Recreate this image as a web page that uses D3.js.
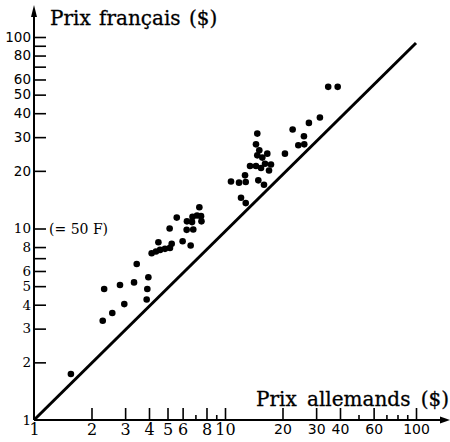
<!DOCTYPE html>
<html lang="fr">
<head>
    <meta charset="UTF-8"/>
    <title>Prix français / Prix allemands</title>
    <script src="https://d3js.org/d3.v7.min.js"></script>
    <style>
        body {
            margin: 0;
            background: #fff;
        }
    </style>
</head>
<body>
<script>
    // prices of the same articles, Germany vs France ($)
    const prixAllemands = [
        1.56, 2.29, 2.57, 2.97, 2.33, 2.82, 3.34, 3.45, 3.97, 3.92, 3.89,
        4.13, 4.35, 4.57, 4.85, 5.15, 4.48, 5.26, 5.13, 5.59, 6.0, 6.61,
        6.30, 6.82, 6.32, 6.72, 6.76, 7.14, 7.49, 7.53, 7.34,
        10.75, 11.84, 12.84, 12.73, 14.94, 16.0, 12.13, 12.84,
        14.76, 14.53, 15.12, 16.65, 14.76, 15.68, 13.52, 14.53, 15.44, 16.2, 17.41, 17.0,
        20.6, 24.2, 26.0, 25.9, 22.6, 27.5, 31.4, 34.7, 38.9
    ];
    const prixFrancais = [
        1.74, 3.30, 3.62, 4.03, 4.83, 5.07, 5.23, 6.53, 5.56, 4.83, 4.26,
        7.42, 7.58, 7.73, 7.83, 7.92, 8.48, 8.32, 10.0, 11.4, 8.58, 8.15,
        9.84, 9.88, 10.9, 10.8, 11.5, 11.7, 11.6, 10.9, 12.9,
        17.6, 17.35, 17.48, 18.95, 17.84, 16.93, 14.48, 13.57,
        31.3, 27.5, 25.6, 24.6, 24.1, 23.45, 21.2, 21.2, 20.7, 21.8, 21.6, 20.1,
        24.6, 27.2, 27.5, 30.3, 32.9, 35.6, 38.0, 54.9, 54.9
    ];

    // equal-price line (as printed)
    const diagonale = [[1, 1], [100, 93]];

    const xTicks = [2, 3, 4, 5, 6, 7, 8, 9, 10, 20, 30, 40, 50, 60, 70, 80, 90, 100];
    const xLabels = [1, 2, 3, 4, 5, 6, 8, 10, 20, 30, 40, 60, 100];
    const xShort = [7, 9, 50, 70, 80, 90];
    const yTicks = [2, 3, 4, 5, 6, 7, 8, 10, 20, 30, 40, 50, 60, 70, 80, 90, 100];
    const yLabels = [1, 2, 3, 4, 5, 6, 8, 10, 20, 30, 40, 50, 60, 80, 100];

    const width = 450;
    const height = 442;
    const origin = {x: 34, y: 420};

    const svg = d3.select("body").append("svg")
        .attr("width", width)
        .attr("height", height);

    const x = d3.scaleLog().domain([1, 100]).range([origin.x, 416]);
    const y = d3.scaleLog().domain([1, 100]).range([origin.y, 37]);

    const serif = "'DejaVu Serif', serif";
    const sans = "'DejaVu Sans', sans-serif";

    // X axis (ticks point up)
    const gx = svg.append("g")
        .attr("transform", `translate(0, ${origin.y})`)
        .call(d3.axisBottom(x)
            .tickValues([1].concat(xTicks))
            .tickSize(-12)
            .tickPadding(4)
            .tickFormat(d => xLabels.includes(d) ? d : ""));
    gx.select(".domain").remove();
    gx.selectAll(".tick line")
        .attr("stroke", "#000")
        .attr("stroke-width", 1.6)
        .attr("y2", d => d === 1 ? 0 : (xShort.includes(d) ? -5 : -12));
    gx.selectAll(".tick text")
        .attr("fill", "#000")
        .style("font-family", d => d <= 10 ? serif : sans)
        .style("font-size", d => d <= 10 ? "16px" : "14px");

    // Y axis (ticks point right)
    const gy = svg.append("g")
        .attr("transform", `translate(${origin.x}, 0)`)
        .call(d3.axisLeft(y)
            .tickValues([1].concat(yTicks))
            .tickSize(-12)
            .tickPadding(3)
            .tickFormat(d => yLabels.includes(d) ? d : ""));
    gy.select(".domain").remove();
    gy.selectAll(".tick line")
        .attr("stroke", "#000")
        .attr("stroke-width", 1.6)
        .attr("x2", d => d === 1 ? 0 : 12);
    gy.selectAll(".tick text")
        .attr("fill", "#000")
        .style("font-family", d => d <= 10 ? serif : sans)
        .style("font-size", d => d <= 10 ? "13.5px" : "13.5px");

    // axis lines with arrows
    svg.append("line")
        .attr("x1", origin.x).attr("y1", origin.y)
        .attr("x2", 444).attr("y2", origin.y)
        .attr("stroke", "#000").attr("stroke-width", 2);
    svg.append("path")
        .attr("d", `M450,${origin.y} L440,${origin.y - 3.5} L440,${origin.y + 3.5} Z`)
        .attr("fill", "#000");
    svg.append("line")
        .attr("x1", origin.x).attr("y1", origin.y)
        .attr("x2", origin.x).attr("y2", 12)
        .attr("stroke", "#000").attr("stroke-width", 2);
    svg.append("path")
        .attr("d", `M${origin.x},5 L${origin.x - 3},17 L${origin.x + 3},17 Z`)
        .attr("fill", "#000");

    // diagonal
    svg.append("path")
        .attr("d", d3.line().x(d => x(d[0])).y(d => y(d[1]))(diagonale))
        .attr("fill", "none")
        .attr("stroke", "#000")
        .attr("stroke-width", 3);

    // points
    svg.append("g")
        .selectAll("circle")
        .data(d3.zip(prixAllemands, prixFrancais))
        .join("circle")
        .attr("cx", d => x(d[0]))
        .attr("cy", d => y(d[1]))
        .attr("r", 3.3)
        .attr("fill", "#000");

    // titles
    svg.append("text")
        .attr("x", 50).attr("y", 25)
        .style("font-family", serif)
        .style("font-size", "20px")
        .style("word-spacing", "2px")
        .attr("stroke", "#000").attr("stroke-width", 0.3)
        .text("Prix français ($)");
    svg.append("text")
        .attr("x", 256).attr("y", 406)
        .style("font-family", serif)
        .style("font-size", "20px")
        .style("word-spacing", "4px")
        .attr("stroke", "#000").attr("stroke-width", 0.3)
        .text("Prix allemands ($)");
    svg.append("text")
        .attr("x", 49).attr("y", y(10) + 5)
        .style("font-family", serif)
        .style("font-size", "14px")
        .text("(= 50 F)");
</script>
</body>
</html>
